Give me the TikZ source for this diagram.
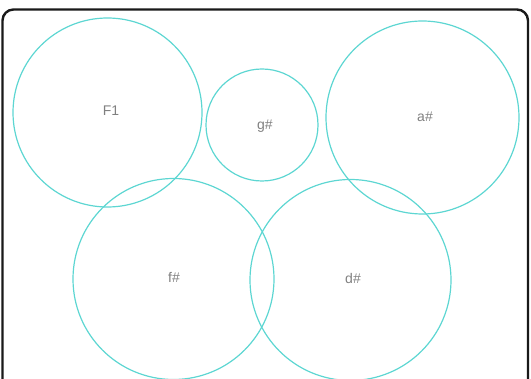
\documentclass[tikz,border=0pt]{standalone}
\usepackage{fontspec}
\setmainfont{Liberation Sans}
\definecolor{ring}{HTML}{5DD6D2}
\definecolor{lbl}{HTML}{808080}
\begin{document}
\begin{tikzpicture}[x=1pt,y=-1pt,
  ringc/.style={draw=ring,line width=1.2pt,circle,inner sep=0pt},
  lab/.style={text=lbl,font=\fontsize{14}{16}\selectfont,inner sep=0pt}]
\useasboundingbox (0,0) rectangle (531,379);
\draw[line width=2.4pt,draw=black!90,rounded corners=11pt] (2.5,9.5) rectangle (528,395);
\node[ringc,minimum size=189pt] (cF) at (107.5,112.5) {};
\node[ringc,minimum size=112pt] (cg) at (262,125) {};
\node[ringc,minimum size=193pt] (ca) at (422.5,117.5) {};
\node[ringc,minimum size=201pt] (cf) at (173.5,279) {};
\node[ringc,minimum size=201pt] (cd) at (350.5,280) {};
\node[lab] (tF) at (111,111) {F1};
\node[lab] (tg) at (265,126) {g\#};
\node[lab] (ta) at (425,117) {a\#};
\node[lab] (tf) at (174,277) {f\#};
\node[lab] (td) at (353,278) {d\#};
\end{tikzpicture}
\end{document}
